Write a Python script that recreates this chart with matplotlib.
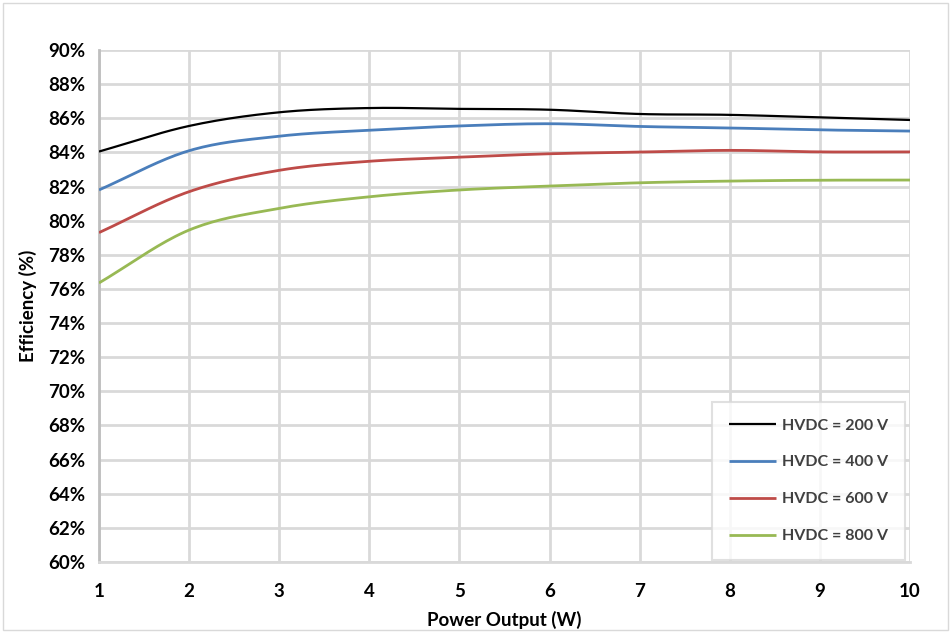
import numpy as np
import matplotlib
matplotlib.use("Agg")
import matplotlib.pyplot as plt
from matplotlib.patches import Rectangle

power_w = [1, 2, 3, 4, 5, 6, 7, 8, 9, 10]
eff_200 = [84.05, 85.55, 86.35, 86.6, 86.55, 86.5, 86.25, 86.2, 86.05, 85.9]
eff_400 = [81.8, 84.1, 84.95, 85.3, 85.55, 85.68, 85.52, 85.43, 85.32, 85.25]
eff_600 = [79.3, 81.7, 82.95, 83.48, 83.72, 83.92, 84.02, 84.12, 84.03, 84.03]
eff_800 = [76.35, 79.45, 80.72, 81.4, 81.8, 82.03, 82.22, 82.32, 82.37, 82.38]
series_labels = ["HVDC = 200 V", "HVDC = 400 V", "HVDC = 600 V", "HVDC = 800 V"]
colors = ["#000000", "#4a7ebb", "#be4b48", "#98b954"]
yticks = list(range(60, 91, 2))


def smooth(x, y, n=20):
    # Catmull-Rom spline through the data points (Excel-style smoothed line)
    x = np.asarray(x, float)
    y = np.asarray(y, float)
    px = np.concatenate([[2 * x[0] - x[1]], x, [2 * x[-1] - x[-2]]])
    py = np.concatenate([[2 * y[0] - y[1]], y, [2 * y[-1] - y[-2]]])
    xs, ys = [], []
    t = np.linspace(0, 1, n, endpoint=False)
    for i in range(1, len(px) - 2):
        for arr, out in ((px, xs), (py, ys)):
            p0, p1, p2, p3 = arr[i - 1], arr[i], arr[i + 1], arr[i + 2]
            out.extend(0.5 * ((2 * p1) + (-p0 + p2) * t
                              + (2 * p0 - 5 * p1 + 4 * p2 - p3) * t ** 2
                              + (-p0 + 3 * p1 - 3 * p2 + p3) * t ** 3))
    xs.append(x[-1])
    ys.append(y[-1])
    return np.array(xs), np.array(ys)


plt.rcParams['font.family'] = ['Lato', 'DejaVu Sans']

fig = plt.figure(figsize=(9.52, 6.32), dpi=100)
fig.patches.append(Rectangle((3 / 952, 1 - 630 / 632), 945 / 952, 627 / 632,
                             transform=fig.transFigure, fill=False,
                             edgecolor="#d9d9d9", linewidth=1.0))
ax = fig.add_axes([99 / 952, 1 - 562 / 632, (910 - 99) / 952, (562 - 50) / 632])

for ys, c, lab in zip([eff_200, eff_400, eff_600, eff_800], colors, series_labels):
    sx, sy = smooth(power_w, ys)
    ax.plot(sx, sy, color=c, lw=1.6 if c == "#000000" else 2.0, label=lab,
            solid_capstyle="butt", zorder=3)

ax.set_xlim(1, 10)
ax.set_ylim(60, 90)
ax.set_xticks(power_w)
ax.set_yticks(yticks)
ax.set_yticklabels([f"{v}%" for v in yticks])
ax.grid(True, color="#d9d9d9", linewidth=2.0)
ax.set_axisbelow(True)
for s in ["top", "right"]:
    ax.spines[s].set_visible(False)
ax.spines["left"].set_color("#bfbfbf")
ax.spines["left"].set_linewidth(2.0)
ax.spines["bottom"].set_color("#d9d9d9")
ax.spines["bottom"].set_linewidth(2.0)
ax.tick_params(axis="both", length=0, labelsize=13.5, colors="#000000")
ax.tick_params(axis="x", pad=15)
ax.tick_params(axis="y", pad=10)
for lbl in ax.get_xticklabels() + ax.get_yticklabels():
    lbl.set_fontweight("bold")

ax.set_xlabel("Power Output (W)", fontsize=13.5, fontweight="bold", labelpad=8)
ax.set_ylabel("Efficiency (%)", fontsize=13.5, fontweight="bold", labelpad=8)

leg = ax.legend(loc="lower right", bbox_to_anchor=(0.9938, 0.004), frameon=True,
                fancybox=False, edgecolor="#d9d9d9",
                handlelength=3.0, handletextpad=0.35, labelspacing=1.42,
                borderpad=1.05, borderaxespad=0.0,
                prop={"weight": "bold", "size": 11.5})
leg.get_frame().set_linewidth(1.5)
for t in leg.get_texts():
    t.set_color("#404040")

fig.savefig("out.png", dpi=100, facecolor="white")
